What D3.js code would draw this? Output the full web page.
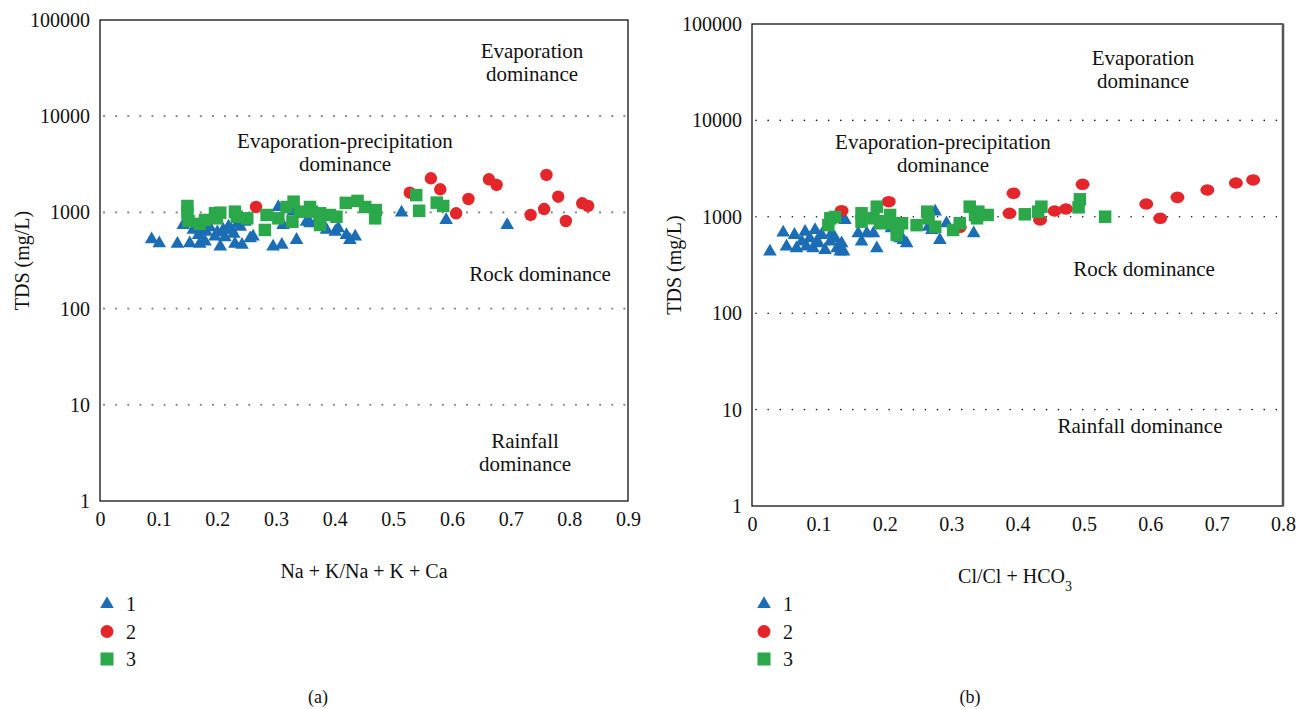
<!DOCTYPE html>
<html><head><meta charset="utf-8">
<script src="https://cdn.jsdelivr.net/npm/d3@7"></script>
<style>
body{margin:0;background:#fff;}
</style></head>
<body><svg id="chart" width="1296" height="709" font-family="Liberation Serif"></svg>
<script>
// ---------- data ----------
const yTicks = [1, 10, 100, 1000, 10000, 100000];
const gridValues = [10, 100, 1000, 10000];
const xTicksA = [0, 0.1, 0.2, 0.3, 0.4, 0.5, 0.6, 0.7, 0.8, 0.9];
const xTicksB = [0, 0.1, 0.2, 0.3, 0.4, 0.5, 0.6, 0.7, 0.8];
const legendLabels = ["1", "2", "3"];

// Panel (a): Na+K/(Na+K+Ca) vs TDS
const a1 = [[0.088,525],[0.101,477],[0.132,470],[0.142,740],[0.145,780],[0.153,477],[0.159,657],[0.168,582],[0.170,470],[0.175,640],[0.179,496],[0.181,630],[0.187,700],[0.196,559],[0.200,620],[0.205,440],[0.210,657],[0.213,551],[0.219,710],[0.224,657],[0.228,600],[0.230,470],[0.235,770],[0.239,710],[0.242,459],[0.247,800],[0.256,538],[0.261,559],[0.295,440],[0.304,1138],[0.310,459],[0.312,740],[0.329,1017],[0.335,517],[0.352,800],[0.358,771],[0.372,868],[0.386,657],[0.401,630],[0.406,684],[0.420,582],[0.426,517],[0.435,559],[0.514,993],[0.590,834],[0.694,740]];
const a2 = [[0.266,1138],[0.528,1603],[0.564,2262],[0.580,1738],[0.607,979],[0.628,1378],[0.663,2208],[0.676,1928],[0.734,940],[0.757,1084],[0.761,2449],[0.781,1456],[0.794,814],[0.822,1244],[0.832,1166]];
const a3 = [[0.149,1166],[0.149,979],[0.151,814],[0.170,760],[0.179,834],[0.196,979],[0.205,993],[0.199,868],[0.230,1017],[0.233,901],[0.251,868],[0.281,657],[0.284,940],[0.304,868],[0.318,1138],[0.330,1292],[0.328,800],[0.341,1017],[0.358,1138],[0.361,1017],[0.375,979],[0.375,740],[0.392,940],[0.403,901],[0.419,1256],[0.439,1316],[0.452,1138],[0.470,1058],[0.469,868],[0.539,1512],[0.544,1040],[0.574,1263],[0.585,1166]];

// Panel (b): Cl/(Cl+HCO3) vs TDS
const b1 = [[0.027,435],[0.047,684],[0.052,490],[0.064,648],[0.067,471],[0.075,552],[0.080,700],[0.082,490],[0.087,598],[0.092,471],[0.095,730],[0.098,560],[0.100,531],[0.105,648],[0.110,453],[0.113,789],[0.118,552],[0.120,674],[0.125,600],[0.128,471],[0.133,435],[0.135,531],[0.138,435],[0.140,927],[0.138,965],[0.160,674],[0.165,552],[0.173,674],[0.183,674],[0.188,471],[0.210,760],[0.218,760],[0.223,598],[0.228,574],[0.233,531],[0.266,789],[0.271,730],[0.276,1130],[0.283,574],[0.293,857],[0.334,674]];
const b2 = [[0.135,1157],[0.206,1435],[0.313,778],[0.394,1753],[0.388,1087],[0.434,926],[0.456,1149],[0.473,1205],[0.498,2173],[0.594,1358],[0.615,965],[0.641,1592],[0.686,1897],[0.729,2242],[0.755,2410]];
const b3 = [[0.118,965],[0.125,996],[0.115,819],[0.165,1087],[0.165,890],[0.188,1273],[0.183,965],[0.193,857],[0.197,900],[0.208,1045],[0.210,857],[0.220,789],[0.218,648],[0.226,857],[0.248,819],[0.264,1130],[0.266,965],[0.276,789],[0.303,730],[0.313,857],[0.328,1273],[0.336,1045],[0.341,1130],[0.339,965],[0.355,1045],[0.411,1062],[0.431,1130],[0.436,1273],[0.492,1254],[0.494,1518],[0.532,1002]];

const colors = ["#1b6db6", "#e4262b", "#2aa84a"];
const FONT = "Liberation Serif";
const FS = 20;

// ---------- drawing ----------
const svg = d3.select("#chart");

function panel(cfg) {
  const x = d3.scaleLinear().domain(cfg.xDomain).range([cfg.left, cfg.right]);
  const y = d3.scaleLog().domain([1, 100000]).range([cfg.bottom, cfg.top]);
  const g = svg.append("g").attr("font-family", FONT);

  // dotted grid lines
  g.selectAll(".grid").data(gridValues).join("line")
    .attr("x1", cfg.left + 4).attr("x2", cfg.right)
    .attr("y1", d => y(d)).attr("y2", d => y(d))
    .attr("stroke", cfg.gridColor).attr("stroke-width", cfg.gridWidth)
    .attr("stroke-linecap", "round")
    .attr("stroke-dasharray", "0.1,12");

  // annotations
  cfg.notes.forEach(n => {
    const t = g.append("text").attr("text-anchor", "middle").attr("font-size", 21)
      .attr("font-family", FONT).attr("fill", "#111").attr("x", n.x);
    n.lines.forEach((l, i) => t.append("tspan").attr("x", n.x).attr("y", n.y + i * 23).text(l));
  });

  // markers
  const tri = d3.symbol().type(d3.symbolTriangle).size(80);
  g.append("g").selectAll("path").data(cfg.s1).join("path")
    .attr("d", tri).attr("fill", colors[0])
    .attr("transform", d => `translate(${x(d[0])},${y(d[1])})`);
  g.append("g").selectAll("ellipse").data(cfg.s2).join("ellipse")
    .attr("cx", d => x(d[0])).attr("cy", d => y(d[1]))
    .attr("rx", cfg.rx).attr("ry", cfg.ry).attr("fill", colors[1]);
  const sq = 12.5;
  g.append("g").selectAll("rect").data(cfg.s3).join("rect")
    .attr("x", d => x(d[0]) - sq / 2).attr("y", d => y(d[1]) - sq / 2)
    .attr("width", sq).attr("height", sq).attr("fill", colors[2]);

  // frame
  g.append("rect").attr("x", cfg.left).attr("y", cfg.top)
    .attr("width", cfg.right - cfg.left).attr("height", cfg.bottom - cfg.top)
    .attr("fill", "none").attr("stroke", "#111").attr("stroke-width", 1.3);
  if (cfg.rightEdge) {
    g.append("line").attr("x1", cfg.right).attr("x2", cfg.right)
      .attr("y1", cfg.top).attr("y2", cfg.bottom)
      .attr("stroke", "#555").attr("stroke-width", 2.5);
  }

  // axes (labels only)
  const yAxis = d3.axisLeft(y).tickValues(yTicks).tickFormat(d3.format("d")).tickSize(0).tickPadding(10);
  g.append("g").attr("transform", `translate(${cfg.left},0)`).call(yAxis)
    .attr("font-family", FONT)
    .call(a => a.select(".domain").remove())
    .selectAll("text").attr("font-size", FS).attr("font-family", FONT).attr("fill", "#111");
  const xAxis = d3.axisBottom(x).tickValues(cfg.xTicks).tickFormat(d => d === 0 ? "0" : d3.format(".1f")(d)).tickSize(0).tickPadding(11);
  g.append("g").attr("transform", `translate(0,${cfg.bottom})`).call(xAxis)
    .attr("font-family", FONT)
    .call(a => a.select(".domain").remove())
    .selectAll("text").attr("font-size", FS).attr("font-family", FONT).attr("fill", "#111");

  // axis titles
  g.append("text").attr("transform", `translate(${cfg.left - 78},${(cfg.top + cfg.bottom) / 2}) rotate(-90)`)
    .attr("text-anchor", "middle").attr("font-size", FS).attr("font-family", FONT).attr("fill", "#111")
    .attr("dy", "0.35em").text("TDS (mg/L)");
  const xt = g.append("text").attr("x", cfg.xTitleX).attr("y", cfg.bottom + 77)
    .attr("text-anchor", "middle").attr("font-size", FS).attr("font-family", FONT).attr("fill", "#111");
  cfg.xTitle(xt);

  // legend
  const lg = g.append("g");
  legendLabels.forEach((lab, i) => {
    const ly = 604 + i * 27.5;
    const cx = cfg.legendX;
    if (i === 0) lg.append("path").attr("d", tri).attr("fill", colors[0]).attr("transform", `translate(${cx},${ly})`);
    if (i === 1) lg.append("circle").attr("cx", cx).attr("cy", ly).attr("r", 6.5).attr("fill", colors[1]);
    if (i === 2) lg.append("rect").attr("x", cx - 6.5).attr("y", ly - 6.5).attr("width", 13).attr("height", 13).attr("fill", colors[2]);
    lg.append("text").attr("x", cx + 19).attr("y", ly).attr("dy", "0.35em").attr("font-size", FS)
      .attr("font-family", FONT).attr("fill", "#111").text(lab);
  });

  g.append("text").attr("x", cfg.subX).attr("y", 703).attr("text-anchor", "middle")
    .attr("font-size", 18).attr("font-family", FONT).attr("fill", "#111").text(cfg.sub);
}

panel({
  left: 100, right: 628, top: 20, bottom: 501, xDomain: [0, 0.9], xTicks: xTicksA,
  s1: a1, s2: a2, s3: a3, rx: 6.2, ry: 6.2, gridColor: "#8a8a8a", gridWidth: 2.2,
  notes: [
    {x: 532, y: 58, lines: ["Evaporation", "dominance"]},
    {x: 345, y: 148, lines: ["Evaporation-precipitation", "dominance"]},
    {x: 540, y: 281, lines: ["Rock dominance"]},
    {x: 525, y: 448, lines: ["Rainfall", "dominance"]}
  ],
  xTitle: t => t.text("Na + K/Na + K + Ca"), xTitleX: 364,
  legendX: 107, subX: 318, sub: "(a)", rightEdge: false
});

panel({
  left: 752, right: 1283, top: 24, bottom: 506, xDomain: [0, 0.8], xTicks: xTicksB,
  s1: b1, s2: b2, s3: b3, rx: 7, ry: 5.8, gridColor: "#222", gridWidth: 1.6,
  notes: [
    {x: 1143, y: 65, lines: ["Evaporation", "dominance"]},
    {x: 943, y: 149, lines: ["Evaporation-precipitation", "dominance"]},
    {x: 1144, y: 276, lines: ["Rock dominance"]},
    {x: 1140, y: 433, lines: ["Rainfall dominance"]}
  ],
  xTitle: t => { t.append("tspan").text("Cl/Cl + HCO"); t.append("tspan").attr("baseline-shift", "sub").attr("font-size", 14).text("3"); },
  xTitleX: 1015,
  legendX: 764, subX: 970, sub: "(b)", rightEdge: true
});
</script></body></html>
